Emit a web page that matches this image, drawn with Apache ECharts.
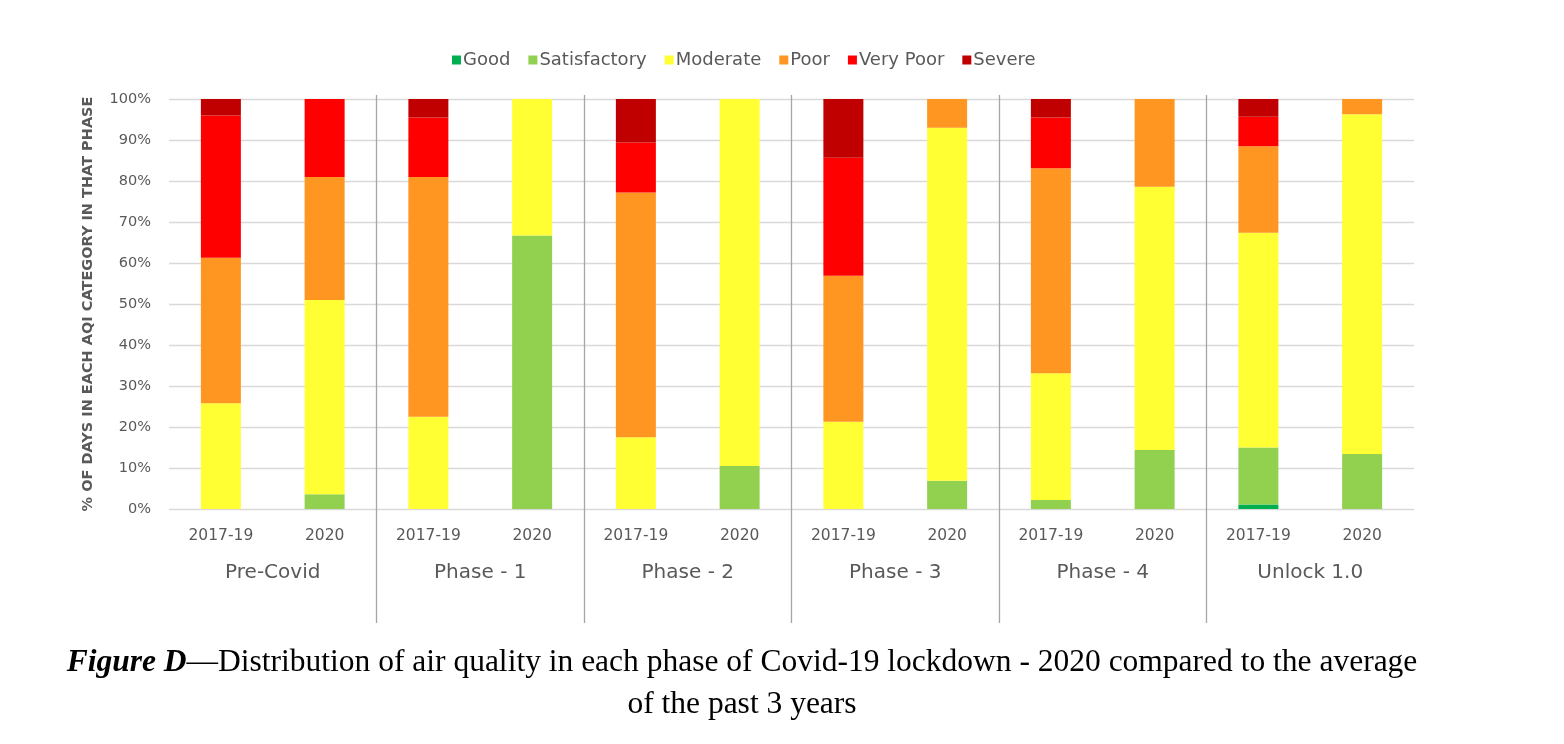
<!DOCTYPE html>
<html><head><meta charset="utf-8">
<script src="https://cdn.jsdelivr.net/npm/echarts@6/dist/echarts.min.js"></script>
<style>html,body{margin:0;padding:0;background:#fff}#c{width:1564px;height:744px}</style>
</head><body><div id="c"></div>
<script>
const categories = ['2017-19','2020','2017-19','2020','2017-19','2020','2017-19','2020','2017-19','2020','2017-19','2020'];
const phases = ['Pre-Covid','Phase - 1','Phase - 2','Phase - 3','Phase - 4','Unlock 1.0'];
const yTicks = [0,10,20,30,40,50,60,70,80,90,100];
const good         = [0,0,0,0,0,0,0,0,0,0,1.1,0];
const satisfactory = [0,3.6,0,66.7,0,10.5,0,6.9,2.2,14.4,13.9,13.4];
const moderate     = [25.8,47.4,22.5,33.3,17.5,89.5,21.3,86.1,30.9,64.2,52.4,82.9];
const poor         = [35.5,30,58.5,0,59.7,0,35.6,7,50,21.4,21.1,3.7];
const veryPoor     = [34.7,19,14.5,0,12.2,0,28.8,0,12.4,0,7.2,0];
const severe       = [4,0,4.5,0,10.6,0,14.3,0,4.5,0,4.3,0];

const seriesDefs = [
  ['Good', good, '#00B050'],
  ['Satisfactory', satisfactory, '#92D050'],
  ['Moderate', moderate, '#FFFF33'],
  ['Poor', poor, '#FF9621'],
  ['Very Poor', veryPoor, '#FF0000'],
  ['Severe', severe, '#C00000']
];
const FONT = "'DejaVu Sans',sans-serif";
const SERIF = "'Liberation Serif',serif";
const GRAY = '#595959';
const chart = echarts.init(document.getElementById('c'), null, {renderer:'canvas'});
chart.setOption({
  animation:false,
  backgroundColor:'#fff',
  title:{
    text:'{b|Figure D}{n|—Distribution of air quality in each phase of Covid-19 lockdown - 2020 compared to the average}\n{n|of the past 3 years}',
    left:'737', top:637, textAlign:'center',
    textStyle:{
      fontWeight:'normal',
      lineHeight:42,
      rich:{
        b:{fontFamily:SERIF,fontSize:31.5,fontWeight:'bold',fontStyle:'italic',color:'#000',lineHeight:42},
        n:{fontFamily:SERIF,fontSize:31.5,fontWeight:'normal',color:'#000',lineHeight:42}
      }
    }
  },
  legend:{
    left:447, top:46, itemWidth:9, itemHeight:9, itemGap:18,
    icon:'rect',
    textStyle:{fontFamily:FONT,fontSize:18,color:GRAY,padding:[0,0,0,-3]},
    data:seriesDefs.map(d=>d[0])
  },
  grid:[
    {left:169, right:150, top:99, bottom:235},
    {left:169, right:150, top:95, bottom:121}
  ],
  xAxis:[
    {type:'category', gridIndex:0, data:categories,
     axisLine:{show:false}, axisTick:{show:false},
     axisLabel:{fontFamily:FONT,fontSize:15.5,color:GRAY,margin:19,interval:0}},
    {type:'category', gridIndex:0, position:'bottom', data:phases,
     axisLine:{show:false}, axisTick:{show:false},
     axisLabel:{fontFamily:FONT,fontSize:20,color:GRAY,margin:54,interval:0}},
    {type:'value', gridIndex:1, min:0, max:6, interval:1,
     axisLine:{show:false}, axisTick:{show:false}, axisLabel:{show:false},
     splitLine:{show:true, showMinLine:false, showMaxLine:false, lineStyle:{color:'#A6A6A6',width:1.3}}}
  ],
  yAxis:[
    {type:'value', gridIndex:0, min:0, max:100, interval:10,
     axisLine:{show:false}, axisTick:{show:false},
     axisLabel:{formatter:'{value}%',fontFamily:FONT,fontSize:14.5,color:GRAY,margin:18,
       customValues:yTicks},
     splitLine:{lineStyle:{color:'#D9D9D9',width:1.3}},
     name:'% OF DAYS IN EACH AQI CATEGORY IN THAT PHASE', nameLocation:'middle', nameGap:73,
     nameTextStyle:{fontFamily:FONT,fontSize:14.5,fontWeight:'bold',color:GRAY}},
    {type:'value', gridIndex:1, min:0, max:1, show:false}
  ],
  series:seriesDefs.map(d=>({
    name:d[0], type:'bar', stack:'all', xAxisIndex:0, yAxisIndex:0,
    data:d[1], barWidth:40, itemStyle:{color:d[2]}
  }))
});
</script></body></html>
